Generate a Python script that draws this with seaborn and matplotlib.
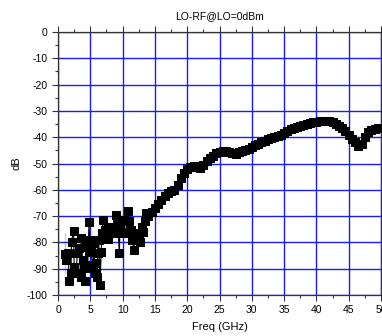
import numpy as np
import pandas as pd
import seaborn as sns
import matplotlib
matplotlib.use("Agg")
import matplotlib.pyplot as plt
from matplotlib.ticker import MultipleLocator

# noisy low-frequency part
freq_low = [1.1, 1.1, 1.3, 1.6, 1.7, 2.0, 2.1, 2.4, 2.5, 2.8, 3.0, 3.3, 3.5, 3.6,
            3.8, 4.0, 4.2, 4.3, 4.6, 4.8, 4.9, 5.1, 5.4, 5.5, 5.7, 5.9, 6.0, 6.2,
            6.3, 6.5, 6.7, 6.8, 7.0, 7.3, 7.7, 7.8, 8.1, 8.4, 8.7, 9.0, 9.2, 9.5,
            9.6, 9.9, 10.1, 10.5, 10.8, 11.0, 11.3, 11.5, 11.7, 11.9, 12.2, 12.5,
            12.7, 13.0, 13.1, 13.4, 13.6]
db_low = [-76.5, -92.0, -86.7, -84.0, -94.7, -91.8, -79.7, -75.6, -89.2, -91.8,
          -84.0, -82.0, -93.0, -78.4, -86.7, -89.8, -94.7, -81.6, -88.6, -72.3,
          -79.0, -83.5, -89.8, -80.3, -91.8, -88.0, -93.0, -84.0, -79.0, -96.2,
          -83.5, -76.5, -71.4, -75.3, -74.0, -78.8, -76.1, -74.0, -76.5, -69.5,
          -71.4, -84.1, -74.0, -76.5, -71.4, -76.5, -67.9, -72.0, -75.3, -79.0,
          -82.9, -76.5, -79.0, -76.5, -79.7, -74.0, -75.9, -72.0, -68.9]

# smoother upper part
freq_high = [14.0, 14.5, 15.0, 15.5, 16.0, 16.5, 17.0, 17.5, 18.0, 18.5, 19.0,
             19.5, 20.0, 20.5, 21.0, 21.5, 22.0, 22.5, 23.0, 23.5, 24.0, 24.5,
             25.0, 25.5, 26.0, 26.5, 27.0, 27.5, 28.0, 28.5, 29.0, 29.5, 30.0,
             30.5, 31.0, 31.5, 32.0, 32.5, 33.0, 33.5, 34.0, 34.5, 35.0, 35.5,
             36.0, 36.5, 37.0, 37.5, 38.0, 38.5, 39.0, 39.5, 40.0, 40.5, 41.0,
             41.5, 42.0, 42.5, 43.0, 43.5, 44.0, 44.5, 45.0, 45.5, 46.0, 46.5,
             47.0, 47.5, 48.0, 48.5, 49.0, 49.5, 50.0]
db_high = [-70.0, -68.5, -67.0, -65.5, -64.0, -62.5, -61.2, -60.5, -60.2, -58.0,
           -55.5, -53.5, -52.0, -51.2, -51.0, -51.2, -51.6, -50.5, -49.2, -48.0,
           -47.0, -46.0, -45.5, -45.2, -45.2, -45.6, -46.0, -46.3, -45.6, -45.2,
           -45.0, -44.6, -43.8, -43.0, -42.4, -41.8, -41.3, -40.8, -40.3, -39.9,
           -39.4, -39.0, -38.5, -37.8, -37.0, -36.5, -36.0, -35.6, -35.3, -35.0,
           -34.7, -34.4, -34.2, -34.0, -33.8, -33.8, -34.0, -34.4, -35.0, -35.6,
           -36.5, -37.6, -39.0, -40.5, -42.0, -43.3, -42.5, -40.0, -38.0, -37.2,
           -36.8, -36.5, -36.4]

df = pd.DataFrame({"freq": freq_low + freq_high, "db": db_low + db_high})

plt.rcParams['font.family'] = ['Liberation Sans', 'DejaVu Sans']
plt.rcParams['axes.unicode_minus'] = False

fig = plt.figure(figsize=(3.82, 3.36), dpi=100)
ax = fig.add_axes([58 / 382, 41 / 336, 323 / 382, 263 / 336])

sns.lineplot(data=df, x="freq", y="db", sort=False, color="black",
             linewidth=0.8, marker="s", markersize=6.2, markeredgecolor="black",
             ax=ax, zorder=3)

ax.set_xlim(0, 50)
ax.set_ylim(-100, 0)
ax.xaxis.set_major_locator(MultipleLocator(5))
ax.xaxis.set_minor_locator(MultipleLocator(2.5))
ax.yaxis.set_major_locator(MultipleLocator(10))
ax.yaxis.set_minor_locator(MultipleLocator(5))
ax.grid(True, which="major", color="#1a1aff", linewidth=1.0)
ax.set_axisbelow(True)
ax.tick_params(which="both", direction="out", top=True, right=True,
               labelsize=7.5, width=0.8, colors="#333333", labelcolor="black")
ax.tick_params(which="major", length=4)
ax.tick_params(which="minor", length=2.5)
for s in ax.spines.values():
    s.set_color("#333333")
    s.set_linewidth(0.9)

ax.set_xlabel("Freq (GHz)", fontsize=8, labelpad=5)
ax.set_ylabel("dB", fontsize=8, labelpad=4)
ax.set_title("LO-RF@LO=0dBm", fontsize=7.5, pad=9)

fig.savefig("out.png", dpi=100)
